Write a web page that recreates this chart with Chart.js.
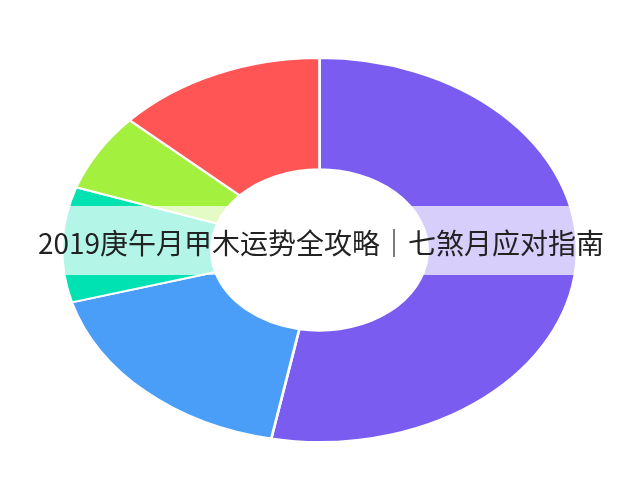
<!DOCTYPE html>
<html>
<head>
<meta charset="utf-8">
<script src="https://cdn.jsdelivr.net/npm/chart.js@4/dist/chart.umd.min.js"></script>
<style>
  html, body { margin: 0; padding: 0; background: #fff; }
  canvas { display: block; }
</style>
</head>
<body>
<canvas id="chart" width="640" height="480"></canvas>
<script>
const titleText = '2019庚午月甲木运势全攻略｜七煞月应对指南'
const labels = ['分类一', '分类二', '分类三', '分类四', '分类五']
const values = [53.0, 17.6, 9.7, 6.5, 13.2]
const colors = ['#7a5cf0', '#4a9ef8', '#00e2b2', '#a3f03f', '#ff5555']

// stretch the round doughnut into an ellipse
const stretchX = 1.341
const ellipsePlugin = {
    id: 'ellipse',
    beforeDatasetsDraw(chart){
        const ctx = chart.ctx
        const meta = chart.getDatasetMeta(0)
        const arc = meta.data[0]
        ctx.save()
        ctx.translate(arc.x, arc.y)
        ctx.scale(stretchX, 1)
        ctx.translate(-arc.x, -arc.y)
    },
    afterDatasetsDraw(chart){
        chart.ctx.restore()
    }
}

// title drawn across the middle over a pale band
const bandTitlePlugin = {
    id: 'bandTitle',
    afterDraw(chart){
        const ctx = chart.ctx
        const arc = chart.getDatasetMeta(0).data[0]
        const halfW = arc.outerRadius * stretchX
        ctx.save()
        ctx.fillStyle = 'rgba(255,255,255,0.7)'
        ctx.fillRect(arc.x - halfW, 206, halfW * 2, 69)
        ctx.fillStyle = '#222'
        ctx.font = '28px "Noto Sans CJK SC", "Noto Sans", sans-serif'
        ctx.textAlign = 'center'
        ctx.textBaseline = 'middle'
        ctx.fillText(titleText, 321, 243)
        ctx.restore()
    }
}

const chart = new Chart(document.getElementById('chart').getContext('2d'), {
    type: 'doughnut',
    data: {
        labels: labels,
        datasets: [{
            data: values,
            backgroundColor: colors,
            borderColor: '#fff',
            borderWidth: 2,
        }]
    },
    options: {
        responsive: false,
        animation: false,
        cutout: '42%',
        layout: {
            padding: {top: 57, bottom: 37, left: 0, right: 1}
        },
        plugins: {
            legend: {display: false},
            tooltip: {enabled: false},
            title: {display: false}
        }
    },
    plugins: [ellipsePlugin, bandTitlePlugin]
})
</script>
</body>
</html>
